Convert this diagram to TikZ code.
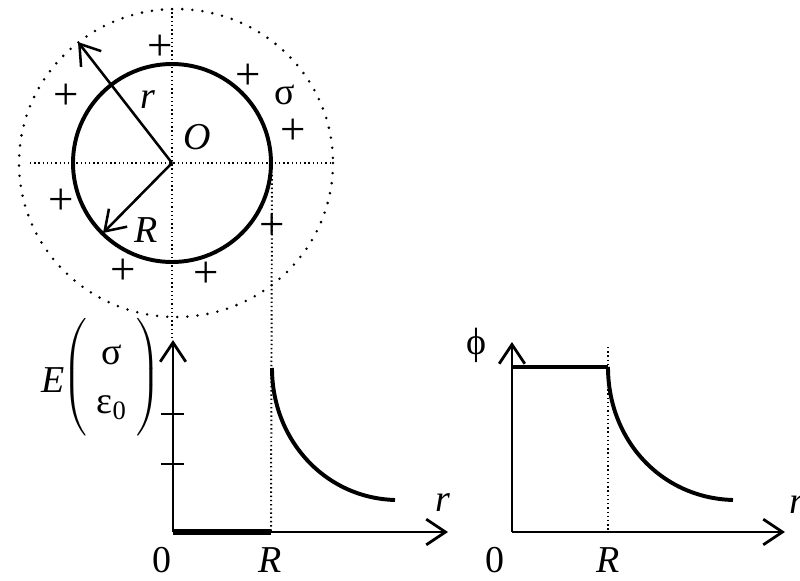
\documentclass[tikz,border=0pt]{standalone}
\usepackage{fontspec}
\setmainfont{Liberation Serif}
\usetikzlibrary{arrows.meta}

\begin{document}
\begin{tikzpicture}[
  x=0.0125cm, y=-0.0125cm,
  every node/.style={font=\fontsize{13.5}{15}\selectfont, inner sep=0pt},
  shell/.style={line width=1.4pt},
  guide/.style={line width=0.7pt, dash pattern=on 0.5pt off 1pt},
  halo/.style={line width=1pt, line cap=round, dash pattern=on 0pt off 3.6pt},
  axis/.style={-{Straight Barb[length=2.4mm,width=3.2mm]}, line width=1pt},
  radarr/.style={-{Straight Barb[length=2.4mm,width=3.2mm]}, line width=0.9pt},
  graph/.style={line width=1.4pt},
  charge/.style={font=\fontsize{16}{16}\selectfont}
]
\useasboundingbox (0,0) rectangle (800,581);

% charged sphere
\coordinate (O) at (172,163);
\draw[guide] (30,163) -- (333,163);
\draw[guide] (172,8) -- (172,340);
\draw[halo] (176,163) ellipse [x radius=157, y radius=154];
\draw[shell] (O) circle [radius=99];
\coordinate (rtip) at (78,42);
\coordinate (Rtip) at (103,233);
\draw[radarr] (O) -- (rtip);
\draw[radarr] (O) -- (Rtip);
\node (lr) at (148,100) {\textit{r}};
\node (lR) at (146,230) {\textit{R}};
\node (lO) at (197,137) {\textit{O}};
\node (lsig) at (285,95) {σ};
\foreach \px/\py [count=\i] in {160/48, 248/77, 66/97, 293/132, 61/202, 272/227, 123/272, 206/275}
  \node[charge] (plus\i) at (\px,\py) {+};

% field E(r)
\coordinate (E0) at (173,532);
\coordinate (Etop) at (173,340);
\coordinate (Eend) at (448,532);
\coordinate (ER) at (271,532);
\coordinate (Ek) at (272,368);
\coordinate (Etail) at (395,500);
\draw[guide] (272,175) -- (ER);
\draw[axis] (E0) -- (Etop);
\draw[axis] (E0) -- (Eend);
\draw[line width=1.8pt] (E0) -- (ER);
\foreach \ty in {414,464}
  \draw[line width=1pt] (161,\ty) -- (184,\ty);
\draw[graph] (Ek) .. controls (272,440) and (325,498) .. (Etail);
\node (Elab) at (53,380) {\textit{E}};
\node (Eunit) at (112,377) {$\left(\vrule height 0.58cm depth 0.58cm width 0pt\hspace{0.62cm}\right)$};
\node (Esig) at (112,355) {σ};
\node (Eeps) at (112,408) {ε\textsubscript{0}};
\node (E0lab) at (162,560) {0};
\node (ERlab) at (270,560) {\textit{R}};
\node (Erlab) at (443,503) {\textit{r}};

% potential phi(r)
\coordinate (P0) at (512,532);
\coordinate (Ptop) at (512,342);
\coordinate (Pend) at (785,532);
\coordinate (PR) at (608,532);
\coordinate (Pleft) at (512,367);
\coordinate (Pk) at (608,367);
\coordinate (Ptail) at (733,500);
\draw[guide] (608,347) -- (PR);
\draw[axis] (P0) -- (Ptop);
\draw[axis] (P0) -- (Pend);
\draw[graph] (Pleft) -- (Pk);
\draw[graph] (Pk) .. controls (608,440) and (661,498) .. (Ptail);
\node (Plab) at (476,345) {ϕ};
\node (P0lab) at (495,560) {0};
\node (PRlab) at (608,560) {\textit{R}};
\node (Prlab) at (797,505) {\textit{r}};
\end{tikzpicture}
\end{document}
